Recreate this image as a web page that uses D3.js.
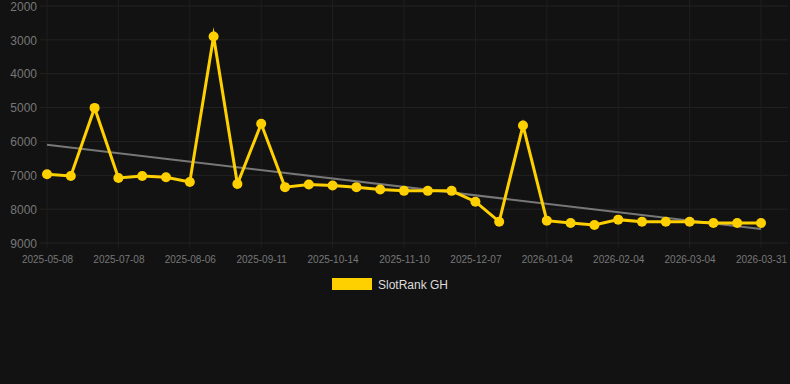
<!DOCTYPE html>
<html><head><meta charset="utf-8">
<script src="https://cdn.jsdelivr.net/npm/d3@7/dist/d3.min.js"></script>
<style>
html,body{margin:0;padding:0;background:#121212;}
svg{display:block;font-family:"Liberation Sans",Arial,Helvetica,sans-serif;}
</style></head>
<body><svg id="c" width="790" height="384"></svg>
<script>
// Category dates (every third one is labelled on the axis; in-between ones estimated)
const categories = [
 "2025-05-08","2025-05-28","2025-06-17","2025-07-08","2025-07-18","2025-07-27",
 "2025-08-06","2025-08-18","2025-08-30","2025-09-11","2025-09-22","2025-10-03",
 "2025-10-14","2025-10-23","2025-11-01","2025-11-10","2025-11-19","2025-11-28",
 "2025-12-07","2025-12-16","2025-12-25","2026-01-04","2026-01-14","2026-01-24",
 "2026-02-04","2026-02-13","2026-02-23","2026-03-04","2026-03-13","2026-03-22",
 "2026-03-31"];
const rankValues = [
 6970,7020,5010,7080,7020,7060,7200,2900,7260,5480,
 7350,7270,7300,7350,7420,7460,7460,7460,7780,8370,
 5530,8340,8410,8470,8310,8370,8370,8370,8410,8410,8410];
const yTicks = [2000,3000,4000,5000,6000,7000,8000,9000];
const xTickLabels = ["2025-05-08","2025-07-08","2025-08-06","2025-09-11","2025-10-14",
 "2025-11-10","2025-12-07","2026-01-04","2026-02-04","2026-03-04","2026-03-31"];
const seriesName = "SlotRank GH";

const svg = d3.select("#c");
const W = 790, H = 384;
svg.append("rect").attr("width",W).attr("height",H).attr("fill","#121212");

const x = d3.scalePoint().domain(categories).range([47,761]);
const y = d3.scaleLinear().domain([2000,9000]).range([6,243]);

const grid = svg.append("g");
grid.selectAll("line.h").data(yTicks).join("line")
  .attr("x1",40).attr("x2",788)
  .attr("y1",d=>y(d)).attr("y2",d=>y(d))
  .attr("stroke","#232323").attr("stroke-width",1);
grid.selectAll("line.v").data(xTickLabels).join("line")
  .attr("x1",d=>x(d)).attr("x2",d=>x(d))
  .attr("y1",0).attr("y2",248)
  .attr("stroke","#1f1f1f").attr("stroke-width",1);

const yAxis = d3.axisLeft(y).tickValues(yTicks).tickSize(0).tickPadding(0).tickFormat(d3.format("d"));
const yg = svg.append("g").attr("transform","translate(37,0)").call(yAxis);
yg.select(".domain").remove();
yg.selectAll("text").attr("fill","#777").attr("font-size",12).attr("font-family","Liberation Sans, Arial, sans-serif").attr("dy","0.35em");

const xAxis = d3.axisBottom(x).tickValues(xTickLabels).tickSize(0).tickPadding(0);
const xg = svg.append("g").attr("transform","translate(0,259)").call(xAxis);
xg.select(".domain").remove();
xg.selectAll("text").attr("fill","#777").attr("font-size",10).attr("font-family","Liberation Sans, Arial, sans-serif").attr("dy","0.35em");

// trend line (least squares)
const n = rankValues.length;
const xs = d3.range(n);
const mx = d3.mean(xs), my = d3.mean(rankValues);
const slope = d3.sum(xs,(i)=>(i-mx)*(rankValues[i]-my))/d3.sum(xs,i=>(i-mx)*(i-mx));
const icpt = my - slope*mx;
svg.append("line")
  .attr("x1",x(categories[0])).attr("y1",y(icpt))
  .attr("x2",x(categories[n-1])).attr("y2",y(icpt+slope*(n-1)))
  .attr("stroke","#777").attr("stroke-width",2);

const line = d3.line().x((d,i)=>x(categories[i])).y(d=>y(d));
svg.append("path").datum(rankValues).attr("d",line)
  .attr("fill","none").attr("stroke","#FFD000").attr("stroke-width",3)
  .attr("stroke-miterlimit",10);
svg.selectAll("circle.p").data(rankValues).join("circle")
  .attr("cx",(d,i)=>x(categories[i])).attr("cy",d=>y(d)).attr("r",5)
  .attr("fill","#FFD000");

svg.append("rect").attr("x",332).attr("y",278).attr("width",40).attr("height",12).attr("fill","#FFD000");
svg.append("text").attr("x",378).attr("y",289).attr("fill","#ddd").attr("font-size",12).text(seriesName);
</script></body></html>
